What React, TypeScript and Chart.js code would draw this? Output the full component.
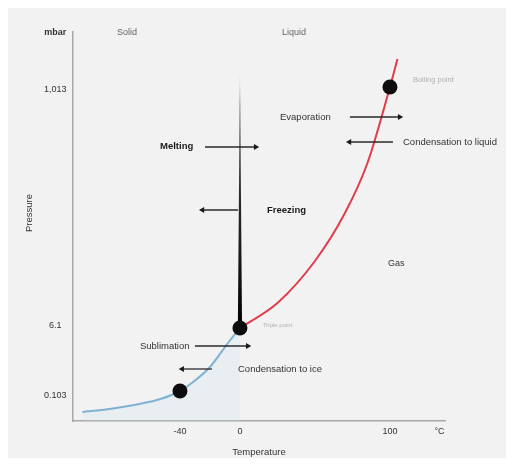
import React, { useEffect, useRef } from "react";
import { Chart, registerables } from "chart.js";

Chart.register(...registerables);

// Schematic phase diagram of water.
// Temperatures in °C; pressures are positions on the schematic (non-linear) pressure axis.
const xTickValues = [-40, 0, 100, 133];
const xTickLabels = ["-40", "0", "100", "°C"];
const yTickValues = [25, 95, 331, 388];
const yTickLabels = ["0.103", "6.1", "1,013", "mbar"];

const sublimationT = [-105, -87, -67, -53, -40, -33, -20, -7, 0];
const sublimationP = [9, 12, 17, 22, 30, 37, 54, 80, 93];

const vaporT = [0, 25, 50, 70, 85, 100, 105];
const vaporP = [93, 118, 160, 208, 258, 334, 362];

const meltingT = [-1.4, 0, 1.4];
const meltingP = [93, 349];

const markedT = [-40, 0, 100];
const markedP = [30, 93, 334];

const labelTexts = [
  "Melting", "Freezing", "Evaporation", "Condensation to liquid",
  "Sublimation", "Condensation to ice", "Boiling point", "Triple point",
  "Gas", "Solid", "Liquid",
];
const labelT = [-53.3, 18, 26.7, 108.7, -66.7, -1.3, 115.3, 15.3, 98.7, -82, 28];
const labelP = [275, 211, 304, 279, 75, 52, 341, 96, 157, 388, 388];

const arrowFromT = [-23.3, -1.3, 73.3, 102, -30, -18.7];
const arrowToT = [10.5, -25, 106.5, 73, 5.2, -38.5];
const arrowP = [274, 211, 304, 279, 75, 52];

const FONT = "'Liberation Sans', Arial, Helvetica, sans-serif";

const labelStyles = [
  { bold: true, size: 9.5, color: "#1a1a1a" },
  { bold: true, size: 9.5, color: "#1a1a1a" },
  { bold: false, size: 9.5, color: "#333" },
  { bold: false, size: 9.5, color: "#333" },
  { bold: false, size: 9.5, color: "#333" },
  { bold: false, size: 9.5, color: "#333" },
  { bold: false, size: 7.5, color: "#b0b0b0" },
  { bold: false, size: 6, color: "#b0b0b0" },
  { bold: false, size: 9, color: "#333" },
  { bold: false, size: 9, color: "#666" },
  { bold: false, size: 9, color: "#666" },
];

const labelPlugin = {
  id: "phaseLabels",
  afterDatasetsDraw(chart: any) {
    const { ctx } = chart;
    const x = chart.scales.x;
    const y = chart.scales.y;
    ctx.save();
    ctx.textBaseline = "middle";
    ctx.textAlign = "left";
    labelTexts.forEach((t, i) => {
      const s = labelStyles[i];
      ctx.font = `${s.bold ? "bold " : ""}${s.size}px ${FONT}`;
      ctx.fillStyle = s.color;
      ctx.fillText(t, x.getPixelForValue(labelT[i]), y.getPixelForValue(labelP[i]));
    });
    ctx.translate(21, 205);
    ctx.rotate(-Math.PI / 2);
    ctx.textAlign = "center";
    ctx.font = `9.5px ${FONT}`;
    ctx.fillStyle = "#333";
    ctx.fillText("Pressure", 0, 0);
    ctx.restore();
  },
};

export default function App() {
  const ref = useRef<HTMLCanvasElement | null>(null);

  useEffect(() => {
    if (!ref.current) return;
    Chart.defaults.font.family = FONT;

    const arrowSets = arrowP.map((p, i) => ({
      data: [
        { x: arrowFromT[i], y: p },
        { x: arrowToT[i], y: p },
      ],
      showLine: true,
      borderColor: "#2a2a2a",
      borderWidth: 1.3,
      pointRadius: [0, 3.5],
      pointStyle: "triangle",
      pointRotation: [0, arrowToT[i] > arrowFromT[i] ? 90 : -90],
      pointBackgroundColor: "#1a1a1a",
      pointBorderWidth: 0,
      order: 2,
    }));

    const chart = new Chart(ref.current, {
      type: "scatter",
      data: {
        datasets: [
          {
            data: markedT.map((t, i) => ({ x: t, y: markedP[i] })),
            pointRadius: 7.5,
            pointBackgroundColor: "#0d0d0d",
            pointBorderWidth: 0,
            showLine: false,
            order: 0,
          },
          {
            data: sublimationT.map((t, i) => ({ x: t, y: sublimationP[i] })),
            showLine: true,
            borderColor: "#7fb2d2",
            borderWidth: 2,
            cubicInterpolationMode: "monotone",
            pointRadius: 0,
            fill: "start",
            backgroundColor: "rgba(200,226,242,0.2)",
            order: 3,
          },
          {
            data: vaporT.map((t, i) => ({ x: t, y: vaporP[i] })),
            showLine: true,
            borderColor: "#e03c4a",
            borderWidth: 2,
            cubicInterpolationMode: "monotone",
            pointRadius: 0,
            order: 3,
          },
          {
            data: [
              { x: meltingT[0], y: meltingP[0] },
              { x: meltingT[1], y: meltingP[1] },
              { x: meltingT[2], y: meltingP[0] },
            ],
            showLine: true,
            borderWidth: 0,
            borderColor: "rgba(0,0,0,0)",
            pointRadius: 0,
            fill: "shape",
            backgroundColor: (c: any) => {
              const ch = c.chart;
              const ys = ch.scales && ch.scales.y;
              if (!ys || !ch.chartArea) return "#111";
              const g = ch.ctx.createLinearGradient(0, ys.getPixelForValue(meltingP[1]), 0, ys.getPixelForValue(meltingP[0]));
              g.addColorStop(0, "rgba(80,80,80,0.15)");
              g.addColorStop(0.12, "rgba(40,40,40,0.85)");
              g.addColorStop(1, "#000");
              return g;
            },
            order: 1,
          },
          ...arrowSets,
        ] as any,
      },
      options: {
        animation: false,
        responsive: false,
        events: [],
        layout: { padding: { top: 24, right: 61, bottom: 0, left: 0 } },
        plugins: { legend: { display: false }, tooltip: { enabled: false } },
        scales: {
          x: {
            type: "linear",
            min: -111.3,
            max: 136.7,
            afterFit: (s: any) => { s.height = 37; },
            afterBuildTicks: (s: any) => { s.ticks = xTickValues.map((v) => ({ value: v })); },
            grid: { display: false, drawTicks: false },
            border: { display: true, color: "#a8a8a8", width: 1.5 },
            ticks: {
              padding: 5.5,
              color: "#333",
              font: { size: 9 },
              autoSkip: false,
              maxRotation: 0,
              callback: (_v: any, i: number) => xTickLabels[i],
            },
            title: { display: true, text: "Temperature", color: "#333", font: { size: 9.5 }, padding: { top: 0, bottom: 0 } },
          },
          y: {
            type: "linear",
            min: 0,
            max: 389,
            afterFit: (s: any) => { s.width = 65; },
            afterBuildTicks: (s: any) => { s.ticks = yTickValues.map((v) => ({ value: v })); },
            grid: { display: false, drawTicks: false },
            border: { display: true, color: "#a8a8a8", width: 1.5 },
            ticks: {
              padding: 6.5,
              crossAlign: "center",
              color: "#333",
              autoSkip: false,
              font: (c: any) => ({ size: 9, weight: c.index === 3 ? "bold" : "normal" }),
              callback: (_v: any, i: number) => yTickLabels[i],
            },
          },
        },
      } as any,
      plugins: [labelPlugin],
    });
    return () => chart.destroy();
  }, []);

  return (
    <div style={{ width: 498, height: 450, background: "#f2f2f2" }}>
      <canvas ref={ref} width={498} height={450} style={{ display: "block", width: 498, height: 450 }} />
    </div>
  );
}
